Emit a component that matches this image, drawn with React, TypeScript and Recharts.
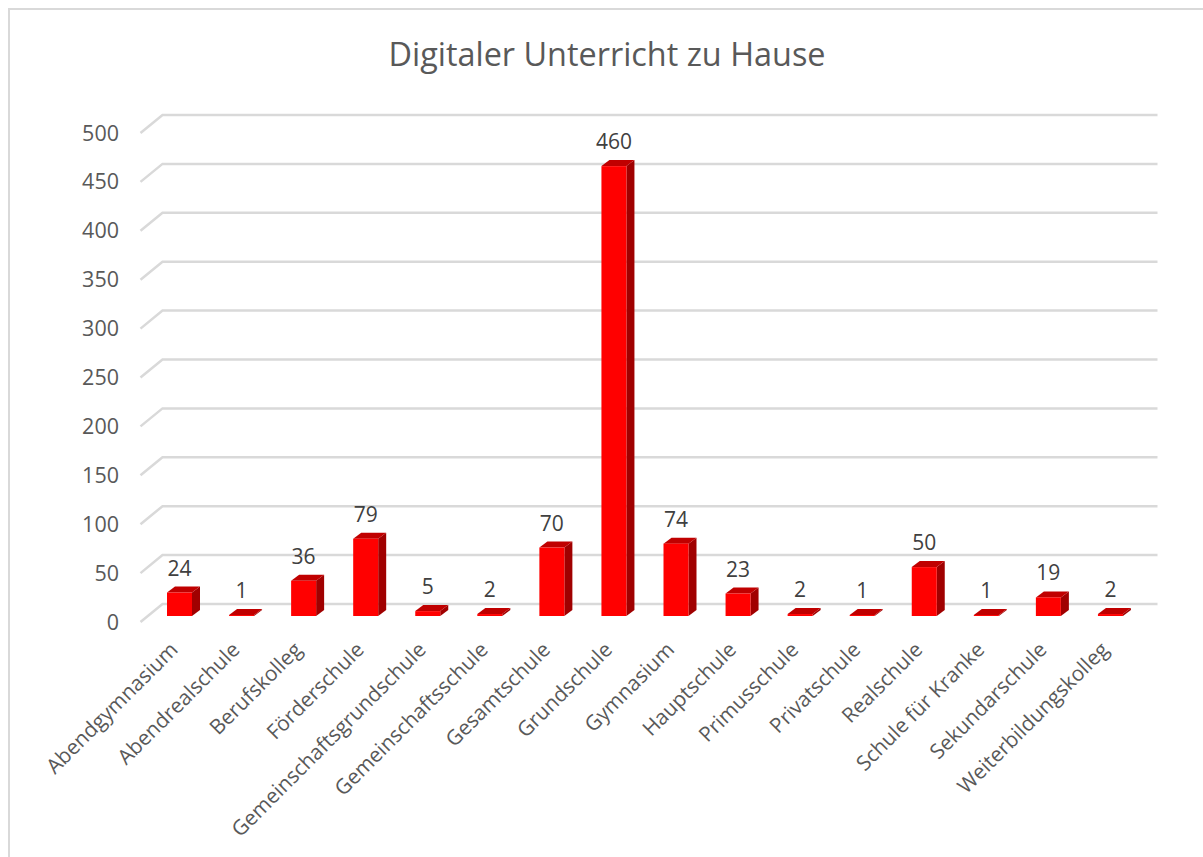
import React from "react";
import { BarChart, Bar, XAxis, YAxis, CartesianGrid, LabelList } from "recharts";

const schools = [
  "Abendgymnasium",
  "Abendrealschule",
  "Berufskolleg",
  "Förderschule",
  "Gemeinschaftsgrundschule",
  "Gemeinschaftsschule",
  "Gesamtschule",
  "Grundschule",
  "Gymnasium",
  "Hauptschule",
  "Primusschule",
  "Privatschule",
  "Realschule",
  "Schule für Kranke",
  "Sekundarschule",
  "Weiterbildungskolleg",
];
const counts = [24, 1, 36, 79, 5, 2, 70, 460, 74, 23, 2, 1, 50, 1, 19, 2];
const yTicks = [0, 50, 100, 150, 200, 250, 300, 350, 400, 450, 500];

const data = schools.map((name, i) => ({ name, value: counts[i] }));

const FONT = "'Open Sans', sans-serif";
const DEPTH_X = 8;
const DEPTH_Y = 6;

// 3D look: front face, top face and right side
function Bar3D(props: any) {
  const { x, y, width, height } = props;
  const right = x + width;
  const bottom = y + height;
  return (
    <g>
      <polygon
        points={`${right},${y} ${right + DEPTH_X},${y - DEPTH_Y} ${right + DEPTH_X},${bottom - DEPTH_Y} ${right},${bottom}`}
        fill="#A00000"
      />
      <polygon
        points={`${x},${y} ${x + DEPTH_X},${y - DEPTH_Y} ${right + DEPTH_X},${y - DEPTH_Y} ${right},${y}`}
        fill="#C00000"
      />
      <rect x={x} y={y} width={width} height={height} fill="#FF0000" />
    </g>
  );
}

// gridline with the little floor diagonal on its left end
function GridLine3D(props: any) {
  const { x1, x2, y1 } = props;
  return (
    <polyline
      points={`${x1 - 7.5},${y1 + 6} ${x1 + 14.5},${y1 - 12} ${x2 + 16.5},${y1 - 12}`}
      fill="none"
      stroke="#D9D9D9"
      strokeWidth={2.5}
    />
  );
}

function YTick({ x, y, payload }: any) {
  return (
    <text x={x - 21} y={y} dy={13.5} textAnchor="end" fontFamily={FONT} fontSize={21.5} fill="#595959">
      {payload.value}
    </text>
  );
}

function XTick({ x, y, payload }: any) {
  const ty = y + 27;
  return (
    <text
      transform={`rotate(-45 ${x} ${ty})`}
      x={x}
      y={ty}
      textAnchor="end"
      fontFamily={FONT}
      fontSize={20.8}
      fill="#595959"
    >
      {payload.value}
    </text>
  );
}

export default function App() {
  return (
    <div
      style={{
        position: "absolute",
        left: 8,
        top: 8,
        width: 1195,
        height: 849,
        borderTop: "2px solid #D9D9D9",
        borderLeft: "2px solid #D9D9D9",
        boxSizing: "border-box",
      }}
    >
      <div style={{ position: "absolute", left: -2, top: -2 }}>
        <BarChart
          width={1195}
          height={849}
          data={data}
          barSize={25}
          margin={{ top: 119, right: 62, bottom: 141, left: 80 }}
        >
          <text
            x={599}
            y={58}
            textAnchor="middle"
            fontFamily={FONT}
            fontSize={32.4}
            fill="#595959"
          >
            Digitaler Unterricht zu Hause
          </text>
          <CartesianGrid vertical={false} horizontal={GridLine3D} />
          <XAxis
            dataKey="name"
            height={100}
            interval={0}
            axisLine={false}
            tickLine={false}
            tick={XTick}
          />
          <YAxis
            width={60}
            domain={[0, 500]}
            ticks={yTicks}
            axisLine={false}
            tickLine={false}
            tick={YTick}
          />
          <Bar dataKey="value" shape={Bar3D} isAnimationActive={false}>
            <LabelList
              dataKey="value"
              position="top"
              offset={17}
              fontFamily={FONT}
              fontSize={21}
              fill="#404040"
            />
          </Bar>
        </BarChart>
      </div>
    </div>
  );
}
